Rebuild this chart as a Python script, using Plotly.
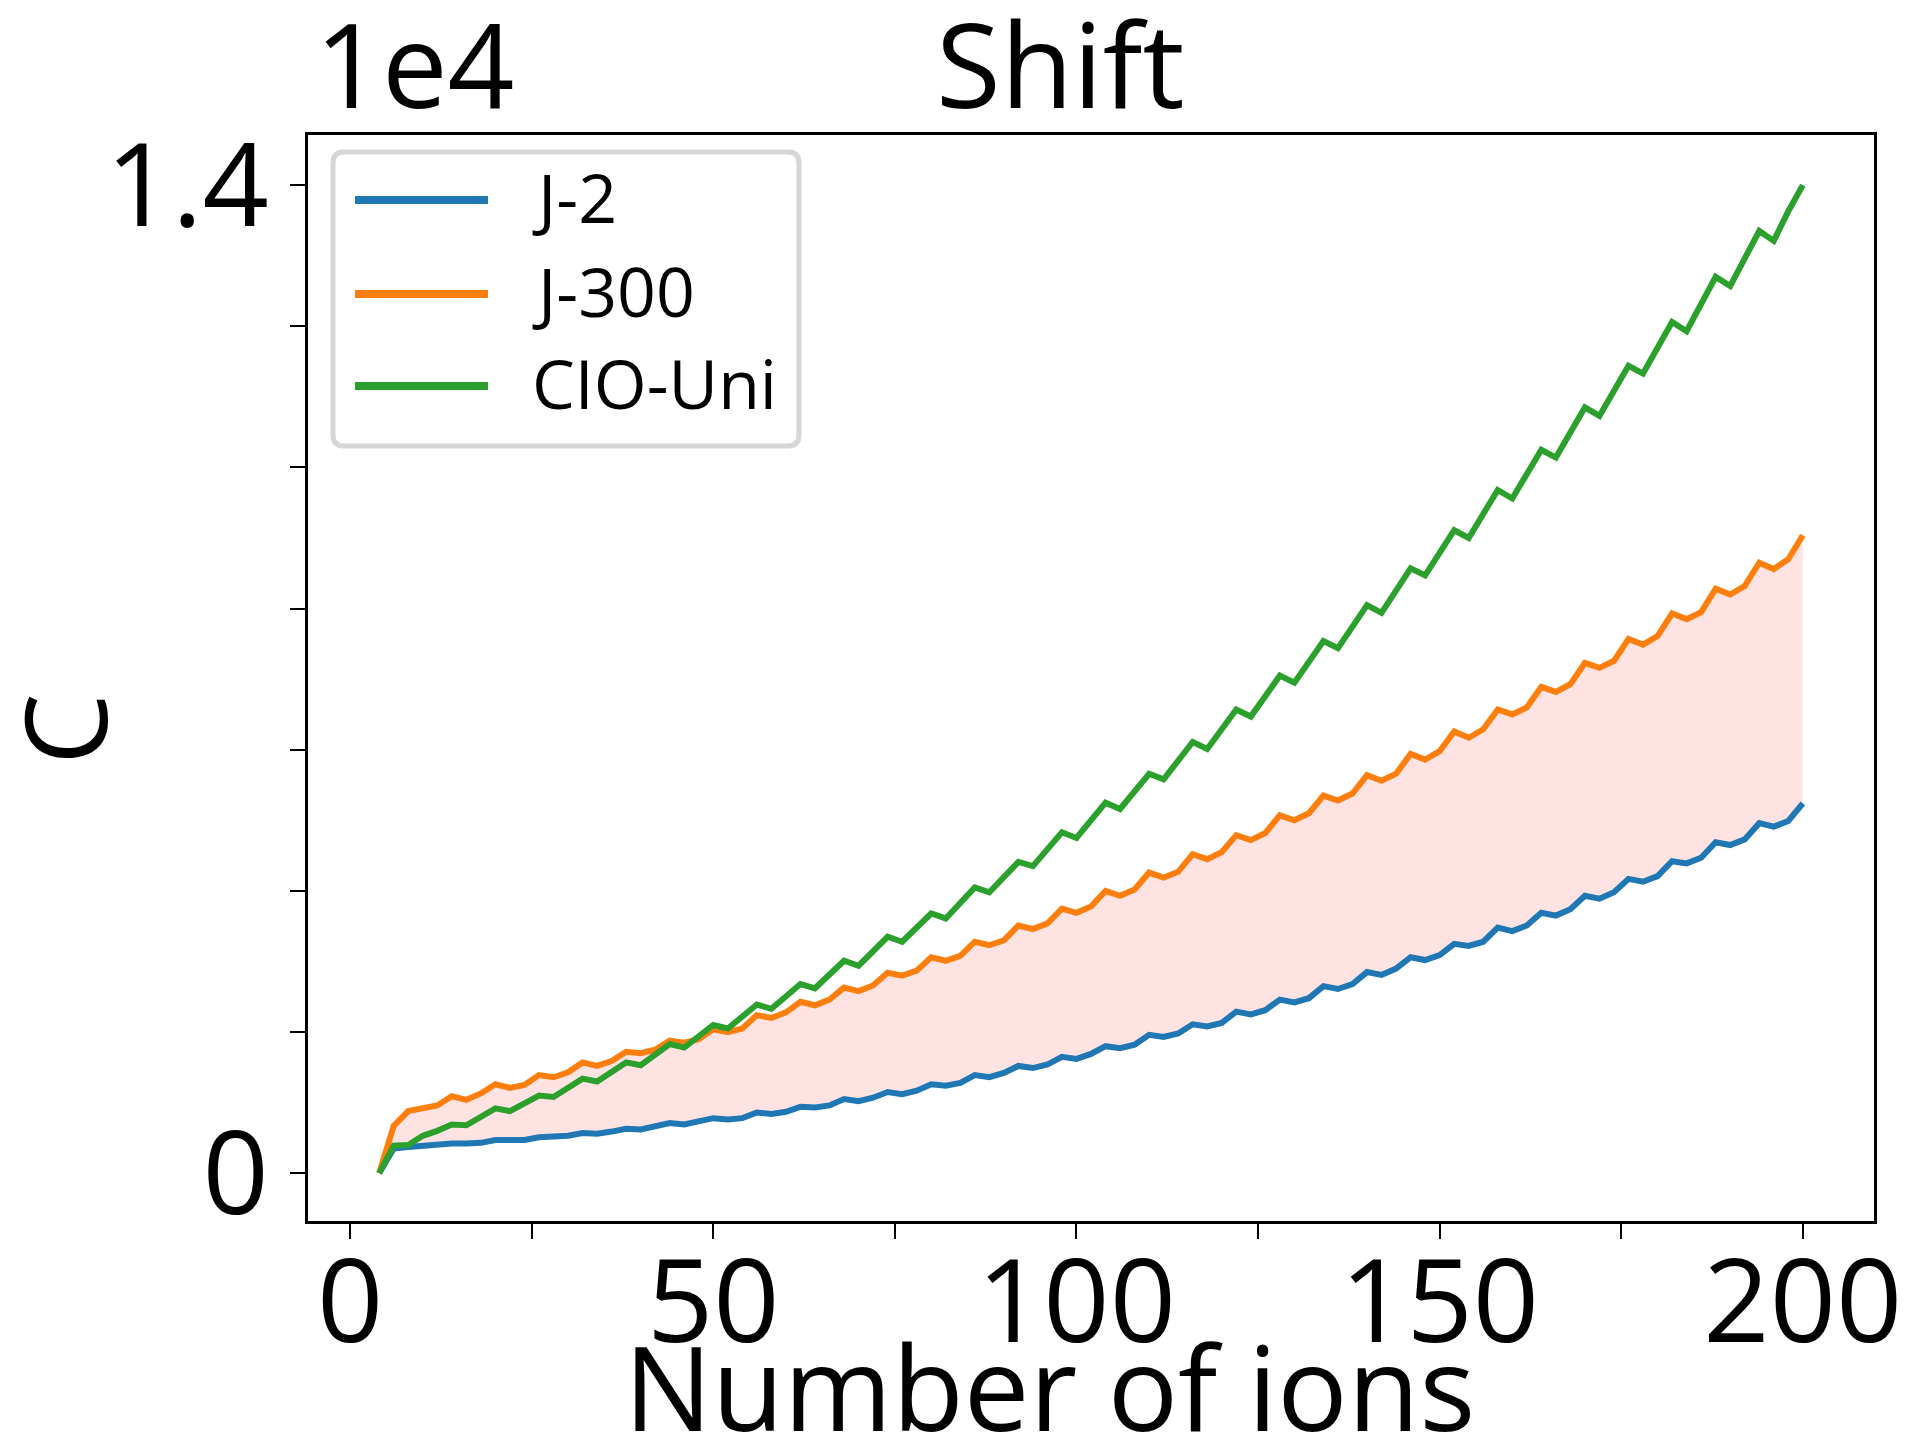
import plotly.graph_objects as go

# ---------------- data (values in raw units; axis shows them x 1e4) ----------------
x_ions = list(range(4, 201, 2))

series_names = ["J-2", "J-300", "CIO-Uni"]
series_colors = ["#1f77b4", "#ff7f0e", "#2ca02c"]

j2 = [0, 350, 370, 390, 400, 420, 420, 430, 470, 460, 470, 510, 510, 530, 570, 560, 590, 630, 620, 660,
      710, 690, 730, 780, 760, 780, 860, 840, 870, 940, 930, 960, 1050, 1020, 1070, 1150, 1120, 1170, 1260, 1240,
      1280, 1390, 1360, 1420, 1520, 1490, 1540, 1650, 1620, 1690, 1800, 1770, 1820, 1960, 1930, 1980, 2110, 2080,
      2130, 2290, 2250, 2310, 2460, 2420, 2480, 2650, 2610, 2680, 2850, 2810, 2900, 3060, 3020, 3090, 3250, 3220,
      3280, 3480, 3430, 3510, 3690, 3650, 3740, 3930, 3890, 3980, 4170, 4130, 4210, 4420, 4390, 4470, 4690, 4650,
      4730, 4960, 4910, 4990, 5240]

j300 = [0, 670, 880, 910, 960, 1090, 1040, 1130, 1260, 1210, 1250, 1390, 1360, 1430, 1570, 1520, 1590, 1720,
        1700, 1750, 1880, 1850, 1900, 2040, 2000, 2050, 2240, 2200, 2280, 2430, 2380, 2460, 2630, 2580, 2660, 2840,
        2800, 2870, 3060, 3010, 3080, 3280, 3230, 3300, 3510, 3460, 3540, 3750, 3690, 3780, 4000, 3930, 4020, 4260,
        4190, 4270, 4520, 4450, 4550, 4790, 4720, 4820, 5070, 5000, 5100, 5350, 5280, 5380, 5640, 5560, 5660, 5940,
        5860, 5980, 6260, 6170, 6290, 6570, 6500, 6600, 6890, 6820, 6930, 7230, 7160, 7260, 7570, 7490, 7610, 7930,
        7850, 7950, 8280, 8200, 8320, 8650, 8560, 8700, 9040]

cio_uni = [0, 390, 400, 530, 600, 690, 680, 800, 920, 880, 990, 1100, 1080, 1200, 1340, 1300, 1440, 1570, 1530,
           1670, 1830, 1780, 1950, 2100, 2050, 2230, 2390, 2330, 2500, 2680, 2620, 2810, 3010, 2940, 3140, 3350,
           3280, 3480, 3680, 3610, 3830, 4050, 3980, 4200, 4410, 4350, 4590, 4830, 4750, 4990, 5250, 5160, 5410,
           5660, 5580, 5840, 6110, 6010, 6300, 6570, 6470, 6760, 7050, 6950, 7240, 7540, 7440, 7740, 8050, 7940,
           8250, 8570, 8470, 8780, 9110, 9000, 9340, 9680, 9560, 9900, 10250, 10140, 10490, 10850, 10730, 11090,
           11440, 11330, 11690, 12060, 11930, 12320, 12700, 12570, 12950, 13350, 13210, 13630, 14000]

scale = 1e4
x_tickvals = [0, 25, 50, 75, 100, 125, 150, 175, 200]
x_ticktext = ["0", "", "50", "", "100", "", "150", "", "200"]
y_tickvals = [0, 0.2, 0.4, 0.6, 0.8, 1.0, 1.2, 1.4]
y_ticktext = ["0", "", "", "", "", "", "", "1.4"]

FONT = "Open Sans, Noto Sans, DejaVu Sans, sans-serif"
BIG = 116

# ---------------- geometry helpers (layout only) ----------------
W, H = 1921, 1434
ML, MR, MT, MB = 308, 47, 135, 213
PL, PR, PT, PB = ML, W - MR, MT, H - MB


def px(xp):
    return (xp - PL) / (PR - PL)


def py(yp):
    return (PB - yp) / (PB - PT)


fig = go.Figure()

y_j2 = [v / scale for v in j2]
y_j300 = [v / scale for v in j300]
y_cio = [v / scale for v in cio_uni]

# shaded band between J-2 and J-300
fig.add_trace(go.Scatter(x=x_ions, y=y_j2, mode="lines", line=dict(width=0, color="rgba(0,0,0,0)"),
                         showlegend=False, hoverinfo="skip"))
fig.add_trace(go.Scatter(x=x_ions, y=y_j300, mode="lines", line=dict(width=0, color="rgba(0,0,0,0)"),
                         fill="tonexty", fillcolor="rgba(255,0,0,0.11)", showlegend=False, hoverinfo="skip"))

for name, ys, col in zip(series_names, [y_j2, y_j300, y_cio], series_colors):
    fig.add_trace(go.Scatter(x=x_ions, y=ys, mode="lines", name=name,
                             line=dict(color=col, width=6), showlegend=False))

axis_common = dict(showline=True, linecolor="black", linewidth=3, mirror=True,
                   ticks="outside", ticklen=15, tickwidth=2.2, tickcolor="black",
                   showgrid=False, zeroline=False,
                   tickfont=dict(family=FONT, size=BIG, color="black"))

fig.update_xaxes(range=[-5.8, 209.8], tickmode="array", tickvals=x_tickvals, ticktext=x_ticktext,
                 ticklabelstandoff=-36, **axis_common)
fig.update_yaxes(range=[-0.0677, 1.471], tickmode="array", tickvals=y_tickvals, ticktext=y_ticktext,
                 ticklabelstandoff=-2, **axis_common)

annotations = [
    dict(text="1e4", x=px(313), y=py(63), xref="paper", yref="paper", xanchor="left", yanchor="middle",
         showarrow=False, font=dict(family=FONT, size=BIG + 1, color="black")),
    dict(text="Shift", x=px(1060), y=py(63), xref="paper", yref="paper", xanchor="center", yanchor="middle",
         showarrow=False, font=dict(family=FONT, size=BIG + 2, color="black")),
    dict(text="Number of ions", x=px(1049), y=py(1386), xref="paper", yref="paper", xanchor="center",
         yanchor="middle", showarrow=False, font=dict(family=FONT, size=117, color="black")),
    dict(text="C", x=px(62), y=py(729), xref="paper", yref="paper", xanchor="center", yanchor="middle",
         textangle=-90, showarrow=False, font=dict(family=FONT, size=114, color="black")),
]

# custom legend (matplotlib style: long line samples, rounded frame)
lx0, ly0, lx1, ly1, r = 333, 152, 799, 446, 11
path = (f"M {px(lx0 + r)},{py(ly0)} L {px(lx1 - r)},{py(ly0)} "
        f"Q {px(lx1)},{py(ly0)} {px(lx1)},{py(ly0 + r)} "
        f"L {px(lx1)},{py(ly1 - r)} Q {px(lx1)},{py(ly1)} {px(lx1 - r)},{py(ly1)} "
        f"L {px(lx0 + r)},{py(ly1)} Q {px(lx0)},{py(ly1)} {px(lx0)},{py(ly1 - r)} "
        f"L {px(lx0)},{py(ly0 + r)} Q {px(lx0)},{py(ly0)} {px(lx0 + r)},{py(ly0)} Z")
shapes = [dict(type="path", path=path, xref="paper", yref="paper",
               line=dict(color="#d6d6d6", width=5), fillcolor="rgba(255,255,255,0.8)", layer="above")]

row_y = [200, 294, 386]
for name, col, ry in zip(series_names, series_colors, row_y):
    shapes.append(dict(type="line", xref="paper", yref="paper", x0=px(355), x1=px(488), y0=py(ry), y1=py(ry),
                       line=dict(color=col, width=8), layer="above"))
    annotations.append(dict(text=name, x=px(530), y=py(ry - 4), xref="paper", yref="paper", xanchor="left",
                            yanchor="middle", showarrow=False,
                            font=dict(family=FONT, size=68, color="black")))

fig.update_layout(width=W, height=H, margin=dict(l=ML, r=MR, t=MT, b=MB, autoexpand=False),
                  paper_bgcolor="white", plot_bgcolor="white", showlegend=False,
                  annotations=annotations, shapes=shapes,
                  font=dict(family=FONT, color="black"))

fig.write_html("out.html")
